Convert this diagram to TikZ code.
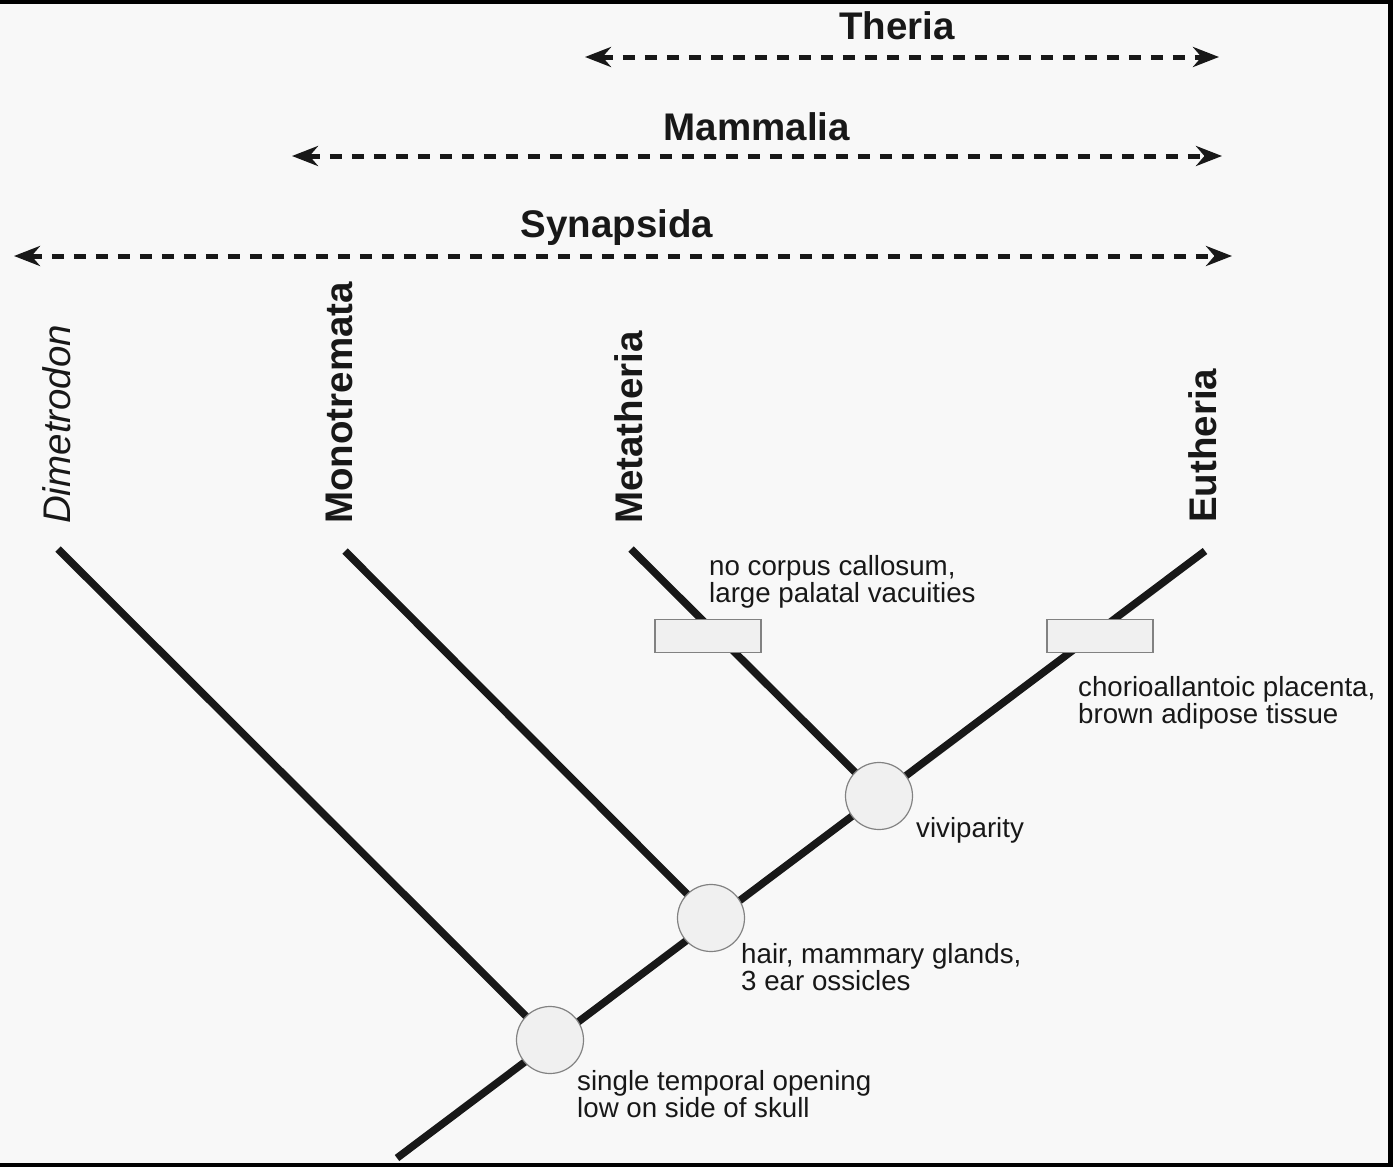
\documentclass[tikz,border=0pt]{standalone}
\usepackage{fontspec}
\setmainfont{Liberation Sans}
\usetikzlibrary{arrows.meta}
\definecolor{bgc}{RGB}{248,248,248}
\definecolor{ink}{RGB}{24,24,24}
\definecolor{boxfill}{RGB}{240,240,240}
\definecolor{edge}{RGB}{130,130,130}
\newcommand{\twolines}[2]{\vtop{\hbox{#1}\hbox{#2}}}
\begin{document}
\begin{tikzpicture}[x=1pt,y=-1pt,
  branch/.style={line width=7.5pt, draw=ink},
  span/.style={line width=5pt, draw=ink, dash pattern=on 12pt off 10pt,
    {Stealth[length=26pt,width=20pt]}-{Stealth[length=26pt,width=20pt]}},
  clade/.style={font=\fontsize{38.5}{40}\selectfont\bfseries, text=ink, inner sep=0pt},
  taxon/.style={font=\fontsize{38.5}{40}\selectfont\bfseries, text=ink, inner sep=0pt, rotate=90, anchor=base west},
  note/.style={font=\fontsize{27.7}{27}\selectfont, text=ink, inner sep=0pt, anchor=base west},
  apo/.style={circle, minimum size=67pt, inner sep=0pt, fill=boxfill, draw=edge, line width=1.2pt},
  bar/.style={rectangle, minimum width=106pt, minimum height=33pt, inner sep=0pt, fill=boxfill, draw=edge, line width=1.2pt}
]
% frame and background
\fill[black] (0,0) rectangle (1393,1167);
\fill[bgc] (0,4) rectangle (1388,1163);
\useasboundingbox (0,0) rectangle (1393,1167);

% clade spans
\coordinate (thL) at (585,57);  \coordinate (thR) at (1219,57);
\coordinate (maL) at (292,156); \coordinate (maR) at (1222,156);
\coordinate (syL) at (14,256);  \coordinate (syR) at (1232,256);
\draw[span] (thL) -- (thR);
\draw[span] (maL) -- (maR);
\draw[span] (syL) -- (syR);
\node[clade, anchor=base] (theria) at (897,39) {Theria};
\node[clade, anchor=base] (mammalia) at (757,140) {Mammalia};
\node[clade, anchor=base] (synapsida) at (617,237) {Synapsida};

% taxa names
\node[taxon, font=\fontsize{38.5}{40}\selectfont\itshape] (dime) at (70,524) {Dimetrodon};
\node[taxon] (mono) at (352,524) {Monotremata};
\node[taxon] (meta) at (642,524) {Metatheria};
\node[taxon] (euth) at (1216,523) {Eutheria};

% tree
\coordinate (root) at (397,1158);
\coordinate (tE) at (1205,551);
\coordinate (tD) at (58,549);
\coordinate (tMo) at (345,551);
\coordinate (tMe) at (631,549);
\coordinate (n1) at (550,1040);
\coordinate (n2) at (711,918);
\coordinate (n3) at (879,796);
\draw[branch] (root) -- (tE);
\draw[branch] (tD) -- (n1);
\draw[branch] (tMo) -- (n2);
\draw[branch] (tMe) -- (n3);

\node[apo] (c1) at (n1) {};
\node[apo] (c2) at (n2) {};
\node[apo] (c3) at (n3) {};
\node[bar] (b1) at (708,636) {};
\node[bar] (b2) at (1100,636) {};

% character notes
\node[note] (t1) at (709,575) {\twolines{no corpus callosum,}{large palatal vacuities}};
\node[note] (t2) at (1078,696) {\twolines{chorioallantoic placenta,}{brown adipose tissue}};
\node[note] (t3) at (916,837) {viviparity};
\node[note] (t4) at (741,963) {\twolines{hair, mammary glands,}{3 ear ossicles}};
\node[note] (t5) at (577,1090) {\twolines{single temporal opening}{low on side of skull}};
\end{tikzpicture}
\end{document}
